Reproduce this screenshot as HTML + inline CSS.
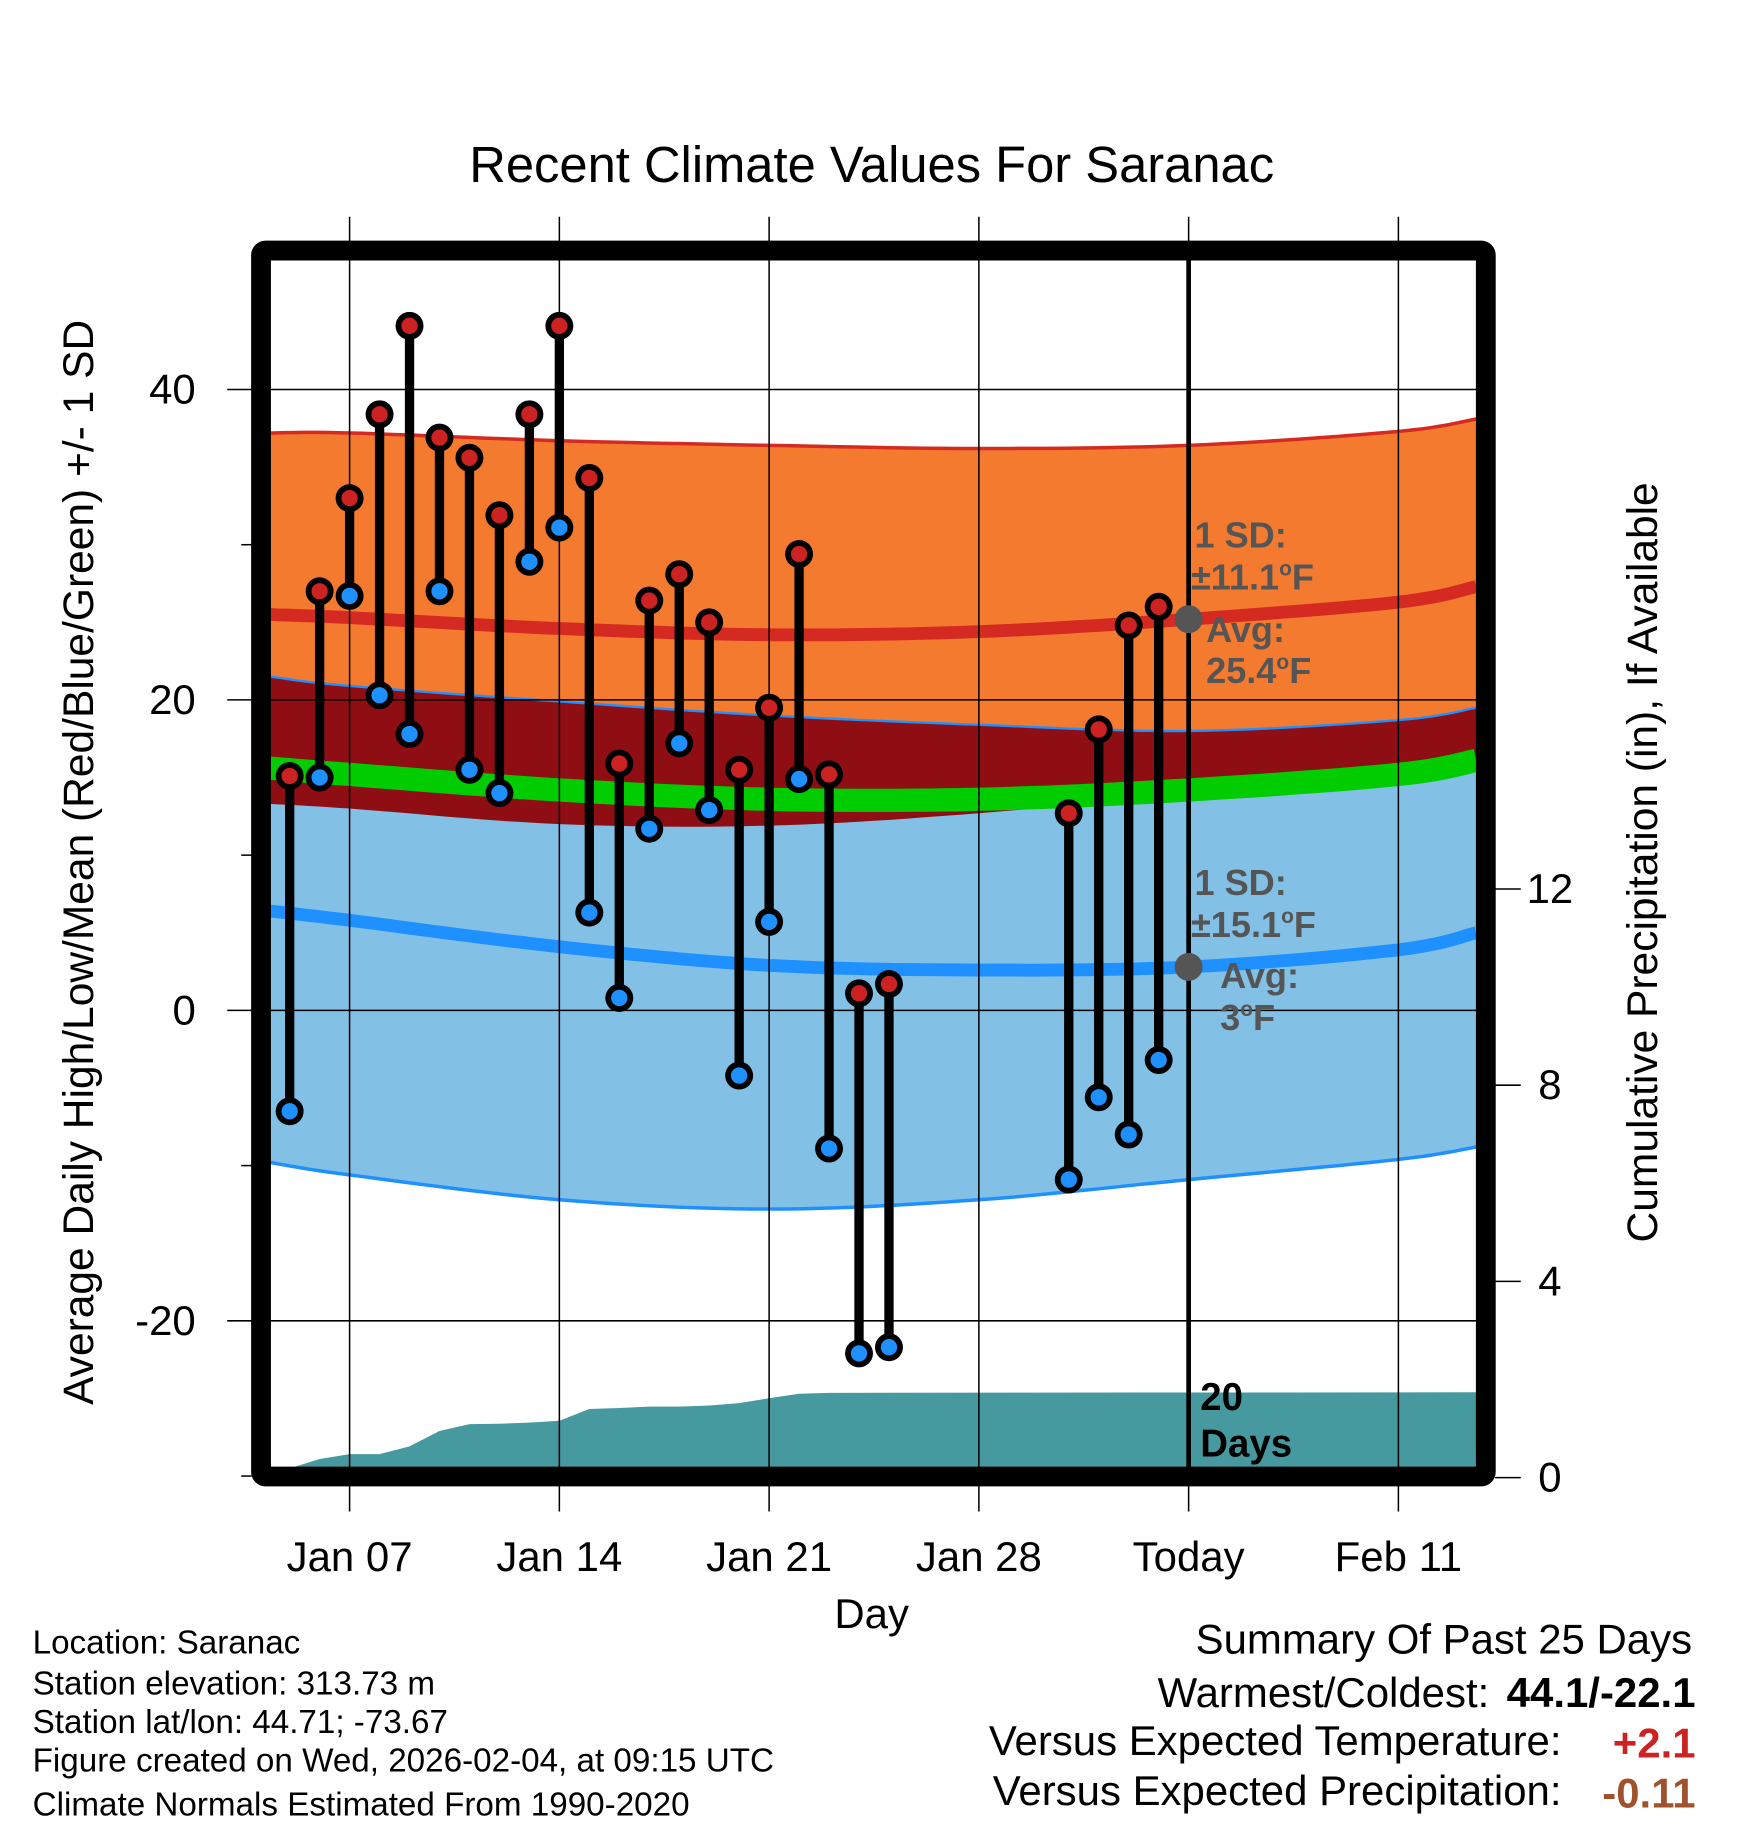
<!DOCTYPE html>
<html><head><meta charset="utf-8">
<style>
html,body{margin:0;padding:0;background:#fff;}
svg{display:block;font-family:"Liberation Sans",Arial,sans-serif;}
</style></head>
<body>
<svg id="chart" width="1748" height="1828" viewBox="0 0 1500 1568.6" xmlns="http://www.w3.org/2000/svg">
<defs><clipPath id="plotclip"><rect x="231" y="222" width="1037" height="1038"/></clipPath></defs>
<rect x="0" y="0" width="1500" height="1568.6" fill="#fff"/>
<text x="748" y="156" font-size="43.5" text-anchor="middle">Recent Climate Values For Saranac</text>
<g id="bands" clip-path="url(#plotclip)"></g>
<g id="grid"></g>
<g id="marks"></g>
<rect x="224" y="215" width="1051" height="1052" rx="4" fill="none" stroke="#000" stroke-width="17"/>
<g id="axes"></g>
<text transform="translate(80,740) rotate(-90)" font-size="36.5" text-anchor="middle">Average Daily High/Low/Mean (Red/Blue/Green) +/- 1 SD</text>
<text transform="translate(1422,740) rotate(-90)" font-size="36.5" text-anchor="middle">Cumulative Precipitation (in), If Available</text>
<text x="748" y="1397" font-size="36" text-anchor="middle">Day</text>
<g font-size="31" font-weight="bold" fill="#555">
<text x="1025" y="470">1 SD:</text>
<text x="1022" y="506">±11.1<tspan font-size="18" dy="-12">o</tspan><tspan dy="12">F</tspan></text>
<text x="1035" y="551">Avg:</text>
<text x="1035" y="586">25.4<tspan font-size="18" dy="-12">o</tspan><tspan dy="12">F</tspan></text>
</g>
<g font-size="31" font-weight="bold" fill="#555">
<text x="1025" y="768">1 SD:</text>
<text x="1022" y="804">±15.1<tspan font-size="18" dy="-12">o</tspan><tspan dy="12">F</tspan></text>
<text x="1047" y="848">Avg:</text>
<text x="1047" y="884">3<tspan font-size="18" dy="-12">o</tspan><tspan dy="12">F</tspan></text>
</g>
<g font-size="33" font-weight="bold" fill="#000">
<text x="1030" y="1210">20</text>
<text x="1030" y="1250">Days</text>
</g>
<g font-size="28.5" fill="#000">
<text x="28" y="1419">Location: Saranac</text>
<text x="28" y="1454">Station elevation: 313.73 m</text>
<text x="28" y="1487">Station lat/lon: 44.71; -73.67</text>
<text x="28" y="1520">Figure created on Wed, 2026-02-04, at 09:15 UTC</text>
<text x="28" y="1558">Climate Normals Estimated From 1990-2020</text>
</g>
<g font-size="36" fill="#000">
<text x="1452" y="1419" text-anchor="end">Summary Of Past 25 Days</text>
<text x="1278" y="1465" text-anchor="end">Warmest/Coldest:</text>
<text x="1455" y="1465" text-anchor="end" font-weight="bold">44.1/-22.1</text>
<text x="1340" y="1506" text-anchor="end">Versus Expected Temperature:</text>
<text x="1455" y="1508" text-anchor="end" font-weight="bold" fill="#CC2222">+2.1</text>
<text x="1340" y="1549" text-anchor="end">Versus Expected Precipitation:</text>
<text x="1455" y="1551" text-anchor="end" font-weight="bold" fill="#A0522D">-0.11</text>
</g>
</svg>
<script>
const normDays = [4.35, 7, 14, 21, 28, 35, 42, 44.6];
const hiUpper = [37.2, 37.2, 36.7, 36.4, 36.2, 36.4, 37.3, 38.1];
const hiMean  = [25.5, 25.3, 24.6, 24.2, 24.4, 25.2, 26.3, 27.3];
const hiLower = [13.3, 13.0, 12.0, 11.9, 12.7, 14.0, 15.0, 16.0];
const loUpper = [21.5, 20.9, 19.9, 19.0, 18.4, 18.0, 18.7, 19.5];
const loMean  = [6.4, 5.8, 4.1, 2.9, 2.6, 2.8, 3.9, 5.0];
const loLower = [-9.8, -10.6, -12.2, -12.8, -12.2, -10.9, -9.6, -8.8];
const avgMean = [15.6, 15.2, 14.2, 13.6, 13.6, 14.2, 15.2, 16.1];

const obsDays = [5,6,7,8,9,10,11,12,13,14,15,16,17,18,19,20,21,22,23,24,25,31,32,33,34];
const obsHigh = [15.1,27.0,33.0,38.4,44.1,36.9,35.6,31.9,38.4,44.1,34.3,15.9,26.4,28.1,25.0,15.5,19.5,29.4,15.2,1.1,1.7,12.7,18.1,24.8,26.0];
const obsLow  = [-6.5,15.0,26.7,20.3,17.8,27.0,15.5,14.0,28.9,31.1,6.3,0.8,11.7,17.2,12.9,-4.2,5.7,14.9,-8.9,-22.1,-21.7,-10.9,-5.6,-8.0,-3.2];

const precipDays = [5,6,7,8,9,10,11,12,13,14,15,16,17,18,19,20,21,22,23,44.6];
const precipCum  = [0.19,0.38,0.48,0.48,0.64,0.95,1.09,1.10,1.12,1.16,1.40,1.42,1.45,1.45,1.47,1.52,1.62,1.71,1.73,1.74];

const xTickDays = [7,14,21,28,35,42];
const xTickLabels = ["Jan 07","Jan 14","Jan 21","Jan 28","Today","Feb 11"];
const yTicks = [40,20,0,-20];
const yMinor = [30,10,-10,-30];
const y2Ticks = [0,4,8,12];
const todayDay = 35;

const NS="http://www.w3.org/2000/svg";
function X(d){return 300+(d-7)*25.714;}
function Y(t){return 867-t*13.32;}
function Yp(p){return 1268-p*42.1;}
function mk(tag,attrs,parent){const e=document.createElementNS(NS,tag);for(const k in attrs)e.setAttribute(k,attrs[k]);parent.appendChild(e);return e;}
function pts(days,vals,fy){return days.map((d,i)=>X(d).toFixed(1)+","+fy(vals[i]).toFixed(1));}
// smooth (catmull-rom) sampling of a normal curve
function smooth(vals){
  const out=[];const n=normDays.length;
  for(let i=0;i<n-1;i++){
    const p0=[X(normDays[Math.max(i-1,0)]),Y(vals[Math.max(i-1,0)])];
    const p1=[X(normDays[i]),Y(vals[i])];
    const p2=[X(normDays[i+1]),Y(vals[i+1])];
    const p3=[X(normDays[Math.min(i+2,n-1)]),Y(vals[Math.min(i+2,n-1)])];
    for(let s=0;s<12;s++){
      const t=s/12,t2=t*t,t3=t2*t;
      const f=(a,b,c,d)=>0.5*((2*b)+(-a+c)*t+(2*a-5*b+4*c-d)*t2+(-a+3*b-3*c+d)*t3);
      out.push(f(p0[0],p1[0],p2[0],p3[0]).toFixed(1)+","+f(p0[1],p1[1],p2[1],p3[1]).toFixed(1));
    }
  }
  out.push(X(normDays[n-1]).toFixed(1)+","+Y(vals[n-1]).toFixed(1));
  return out;
}
function band(up,lo,fill,name,parent){
  const p=smooth(up).concat(smooth(lo).reverse());
  const e=mk('polygon',{points:p.join(' '),fill:fill},parent);
  
  
}
function line(vals,color,w,name,parent){
  const e=mk('polyline',{points:smooth(vals).join(' '),fill:'none',stroke:color,'stroke-width':w},parent);
  
  
}
const bands=document.getElementById('bands');
band(hiUpper,hiLower,'#F47A30','high-sd-band',bands);
band(loUpper,loLower,'#82C0E6','low-sd-band',bands);
band(loUpper,hiLower,'#8E0E14','overlap-band',bands);
line(hiUpper,'#D42A22',3,'high-upper-line',bands);
line(loUpper,'#1E90FF',2,'low-upper-line',bands);
line(loLower,'#1E90FF',3,'low-lower-line',bands);
line(hiMean,'#D42A22',11,'high-mean-line',bands);
line(loMean,'#1E90FF',11,'low-mean-line',bands);
line(avgMean,'#00CC00',20,'mean-line',bands);
{
  const p=[X(precipDays[0]).toFixed(1)+","+Yp(0)].concat(pts(precipDays,precipCum,Yp));
  p.push(X(precipDays[precipDays.length-1]).toFixed(1)+","+Yp(0));
  const e=mk('polygon',{points:p.join(' '),fill:'#4799A0'},bands);
  
  
}
const grid=document.getElementById('grid');
xTickDays.forEach((d,i)=>{
  const isToday = d===todayDay;
  const e=mk('line',{x1:X(d),x2:X(d),y1:isToday?222:186,y2:isToday?1262:1297,stroke:'#000','stroke-width':isToday?4:1.3},grid);
  
  
  if(isToday){
    const t=mk('line',{x1:X(d),x2:X(d),y1:186,y2:1297,stroke:'#000','stroke-width':1.3},grid);
    
    
  }
});
yTicks.forEach(v=>{
  const e=mk('line',{x1:195,x2:1268,y1:Y(v),y2:Y(v),stroke:'#000','stroke-width':1.3},grid);
  
  
});
const marks=document.getElementById('marks');
obsDays.forEach((d,i)=>{
  const x=X(d);
  const s=mk('line',{x1:x,x2:x,y1:Y(obsHigh[i]),y2:Y(obsLow[i]),stroke:'#000','stroke-width':8},marks);
  
  
});
obsDays.forEach((d,i)=>{
  const x=X(d);
  [[obsHigh[i],'#CC2222','high-point'],[obsLow[i],'#1E90FF','low-point']].forEach(([v,c,n])=>{
    const o=mk('circle',{cx:x,cy:Y(v),r:12,fill:'#000'},marks);
    
    
    const f=mk('circle',{cx:x,cy:Y(v),r:7,fill:c},marks);
    
    
  });
});
{
  const h=mk('circle',{cx:X(todayDay),cy:Y(hiMean[5]),r:12,fill:'#555'},marks);
  
  
  const l=mk('circle',{cx:X(todayDay),cy:Y(loMean[5]),r:12,fill:'#555'},marks);
  
  
}
const axes=document.getElementById('axes');
xTickDays.forEach((d,i)=>{
  const t=mk('text',{x:X(d),y:1348,'font-size':36,'text-anchor':'middle'},axes);
  t.textContent=xTickLabels[i];
  
  
});
yTicks.forEach(v=>{
  const t=mk('text',{x:168,y:Y(v)+12,'font-size':36,'text-anchor':'end'},axes);
  t.textContent=String(v);
  
  
});
yMinor.forEach(v=>{
  const e=mk('line',{x1:207,x2:216,y1:Y(v),y2:Y(v),stroke:'#000','stroke-width':1.3},axes);
  
  
});
y2Ticks.forEach(v=>{
  const e=mk('line',{x1:1283,x2:1305,y1:Yp(v),y2:Yp(v),stroke:'#000','stroke-width':1.3},axes);
  
  
  const t=mk('text',{x:1330,y:Yp(v)+12,'font-size':36,'text-anchor':'middle'},axes);
  t.textContent=String(v);
  
  
});
</script>
</body></html>
